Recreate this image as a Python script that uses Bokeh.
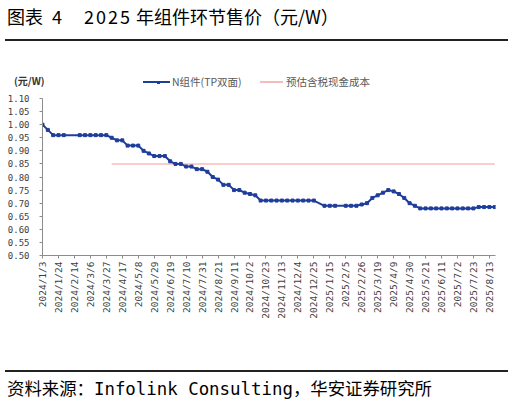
import pandas as pd
from bokeh.plotting import figure
from bokeh.models import Range1d, FixedTicker, ColumnDataSource, Div
from bokeh.layouts import column
from bokeh.embed import file_html
from bokeh.resources import INLINE
import math

# ---------------- data ----------------
start_date = "2024/1/3"
end_date = "2025/8/20"
missing_weeks = ["2024/2/7", "2024/2/14", "2025/1/1", "2025/1/29"]

n_values = [
    1.00, 0.98, 0.96, 0.96, 0.96,
    0.96, 0.96, 0.96, 0.96, 0.96, 0.96,
    0.95, 0.94, 0.94, 0.92, 0.92, 0.92, 0.90, 0.89, 0.88, 0.88, 0.88,
    0.86, 0.85, 0.85, 0.84, 0.84, 0.83, 0.83, 0.82, 0.80, 0.79,
    0.77, 0.77, 0.75, 0.75, 0.74, 0.735, 0.73,
    0.71, 0.71, 0.71, 0.71, 0.71, 0.71, 0.71, 0.71, 0.71, 0.71, 0.71,
    0.69, 0.69, 0.69,
    0.69, 0.69, 0.69, 0.695, 0.70, 0.72, 0.73, 0.74, 0.75, 0.745, 0.735,
    0.72, 0.70, 0.69,
    0.68, 0.68, 0.68, 0.68, 0.68, 0.68, 0.68, 0.68, 0.68, 0.68, 0.68,
    0.685, 0.685, 0.685, 0.685,
]

cost_dates = ["2024/4/3", "2025/8/20"]
cost_values = [0.85, 0.85]

tick_labels = [
    "2024/1/3", "2024/1/24", "2024/2/14", "2024/3/6", "2024/3/27", "2024/4/17",
    "2024/5/8", "2024/5/29", "2024/6/19", "2024/7/10", "2024/7/31", "2024/8/21",
    "2024/9/11", "2024/10/2", "2024/10/23", "2024/11/13", "2024/12/4", "2024/12/25",
    "2025/1/15", "2025/2/5", "2025/2/26", "2025/3/19", "2025/4/9", "2025/4/30",
    "2025/5/21", "2025/6/11", "2025/7/2", "2025/7/23", "2025/8/13",
]
y_ticks = [0.50, 0.55, 0.60, 0.65, 0.70, 0.75, 0.80, 0.85, 0.90, 0.95, 1.00, 1.05, 1.10]

series1_name = "N组件(TP双面)"
series2_name = "预估含税现金成本"
title_parts = ["图表", "4", "2025", "年组件环节售价（元/W）"]
unit_text = "(元/W)"
source_text = "资料来源：Infolink Consulting，华安证券研究所"

# ---------------- helpers ----------------
t0 = pd.to_datetime(start_date)


def week_pos(d):
    return (pd.to_datetime(d) - t0).days / 7.0


all_weeks = pd.date_range(pd.to_datetime(start_date), pd.to_datetime(end_date), freq="7D")
miss = set(pd.to_datetime(missing_weeks))
n_dates = [d for d in all_weeks if d not in miss]
n_x = [week_pos(d) for d in n_dates]

src = ColumnDataSource(dict(x=n_x, y=n_values))
cost_src = ColumnDataSource(dict(x=[week_pos(d) for d in cost_dates], y=cost_values))
tick_pos = [week_pos(t) for t in tick_labels]

BLUE = "#1F3E9C"
PINK = "#F6BCBC"
TXT = "#404040"
W = 514
CJK = "'Noto Sans CJK SC',sans-serif"
MONO_CJK = "'DejaVu Sans Mono','Noto Sans CJK SC',monospace"


def abs_text(txt, left, top, size, font=CJK, color="#000", extra=""):
    return (f'<div style="position:absolute;left:{left}px;top:{top}px;font-family:{font};'
            f'font-size:{size}px;line-height:{size}px;color:{color};white-space:nowrap;{extra}">{txt}</div>')


# ---------------- header (title, rule, unit, legend) ----------------
header_html = (
    f'<div style="position:relative;width:{W}px;height:90px;">'
    + abs_text(title_parts[0], 7, 6.5, 18)
    + abs_text(title_parts[1], 52, 6.5, 18)
    + abs_text(title_parts[2], 84, 6.5, 18, extra="letter-spacing:2px;")
    + abs_text(title_parts[3], 136, 6.5, 18)
    + f'<div style="position:absolute;left:5px;top:39.4px;width:503px;height:1.2px;background:#222;"></div>'
    + abs_text(unit_text, 14, 76, 10, color="#333", extra="font-weight:bold;")
    + f'<div style="position:absolute;left:143px;top:81px;width:27px;height:2px;background:{BLUE};"></div>'
    + f'<div style="position:absolute;left:157px;top:80.5px;width:3px;height:3px;background:{BLUE};"></div>'
    + abs_text(series1_name, 172, 76.5, 10.5, color="#595959")
    + f'<div style="position:absolute;left:260px;top:81.2px;width:23px;height:1.6px;background:{PINK};"></div>'
    + abs_text(series2_name, 286, 76.5, 10.5, color="#595959")
    + '</div>'
)
header = Div(text=header_html, width=W, height=90, margin=0)

# ---------------- chart ----------------
p = figure(
    width=W, height=275,
    min_border_left=42, min_border_right=19, min_border_top=8, min_border_bottom=110,
    x_range=Range1d(0, 85.15), y_range=Range1d(0.5, 1.1),
    output_backend="svg", toolbar_location=None, margin=0,
)
p.outline_line_color = None
p.xgrid.grid_line_color = None
p.ygrid.grid_line_color = None
p.background_fill_color = "white"
p.border_fill_color = "white"

p.line("x", "y", source=cost_src, line_color=PINK, line_width=1.5)
p.line("x", "y", source=src, line_color=BLUE, line_width=2)
p.scatter("x", "y", source=src, marker="square", size=3, fill_color=BLUE, line_color=BLUE)

xa = p.xaxis[0]
xa.ticker = FixedTicker(ticks=tick_pos)
xa.major_label_overrides = {tp: lbl for tp, lbl in zip(tick_pos, tick_labels)}
xa.major_label_orientation = math.pi / 2
xa.major_label_text_font = "DejaVu Sans Mono"
xa.major_label_text_font_size = "9.5px"
xa.major_label_text_color = TXT
xa.major_tick_out = 3
xa.major_tick_in = 0
xa.minor_tick_line_color = None
xa.major_label_standoff = 3
xa.axis_line_color = "#8C8C8C"
xa.major_tick_line_color = "#8C8C8C"

ya = p.yaxis[0]
ya.ticker = FixedTicker(ticks=y_ticks)
ya.major_label_overrides = {t: f"{t:.2f}" for t in y_ticks}
ya.major_label_text_font = "DejaVu Sans Mono"
ya.major_label_text_font_size = "9px"
ya.major_label_text_color = TXT
ya.major_tick_out = 3
ya.major_tick_in = 0
ya.minor_tick_line_color = None
ya.major_label_standoff = 10
ya.axis_line_color = "#8C8C8C"
ya.major_tick_line_color = "#8C8C8C"

# ---------------- footer (rule, source) ----------------
footer_html = (
    f'<div style="position:relative;width:{W}px;height:38px;">'
    + f'<div style="position:absolute;left:5px;top:5.4px;width:503px;height:1.2px;background:#222;"></div>'
    + abs_text(source_text, 7, 15.5, 17.4, font=MONO_CJK)
    + '</div>'
)
footer = Div(text=footer_html, width=W, height=38, margin=0)

layout = column(header, p, footer, spacing=0)
open("out.html", "w").write(file_html(layout, INLINE))
